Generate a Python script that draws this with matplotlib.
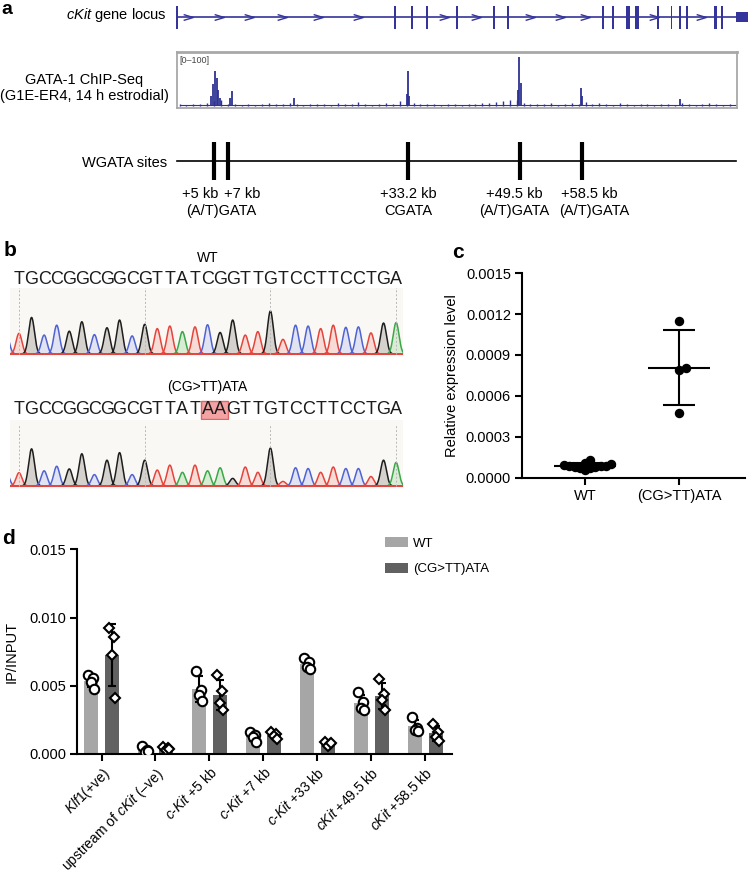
import numpy as np
import matplotlib
matplotlib.use("Agg")
import matplotlib.pyplot as plt
from matplotlib.path import Path
from matplotlib.patches import Rectangle

plt.rcParams["font.family"] = ["Liberation Sans", "DejaVu Sans"]
plt.rcParams["mathtext.fontset"] = "custom"
plt.rcParams["mathtext.it"] = "Liberation Sans:italic"
plt.rcParams["mathtext.rm"] = "Liberation Sans"

# ---------------- data ----------------
# panel a: cKit locus, positions in kb from the start of the gene
exon_kb = [-0.4, 31.3, 33.8, 35.9, 40.3, 45.7, 47.7, 61.5, 63.0, 65.2, 66.5,
           69.5, 71.5, 72.7, 73.7, 77.9, 78.9]
exon_wide = [0, 0, 0, 0, 0, 0, 0, 0, 0, 1, 1, 0, 0, 0, 0, 1, 0]
last_exon_kb = (80.9, 82.6)
arrow_kb = [1.2, 5.7, 10.1, 14.9, 20.1, 25.9, 38.4, 43.1, 50.9, 55.3, 58.9, 68.9, 75.8]

chip_bg = [3, 2, 4, 3, 5, 9, 11, 4, 3, 2,
           4, 2, 3, 5, 3, 4, 6, 4, 2, 3,
           4, 3, 2, 5, 3, 4, 7, 3, 2, 3,
           5, 4, 9, 8, 6, 3, 4, 3, 2, 4,
           3, 2, 4, 3, 5, 6, 8, 9, 11, 10,
           5, 4, 3, 3, 5, 2, 3, 6, 4, 8,
           3, 5, 4, 2, 6, 3, 2, 4, 3, 2,
           3, 4, 2, 5, 3, 2, 4, 6, 3, 2,
           4, 5, 3]
peak_kb = [4.6, 4.9, 5.2, 5.4, 5.6, 5.9, 7.3, 7.6, 16.6, 33.0, 33.2, 33.4,
           49.2, 49.4, 49.6, 58.3, 58.5, 72.8]
peak_val = [18, 40, 65, 52, 30, 14, 14, 27, 15, 22, 65, 18, 30, 91, 42, 33, 18, 13]

site_kb = [5, 7, 33.2, 49.5, 58.5]
site_labels = ["+5 kb", "+7 kb", "+33.2 kb", "+49.5 kb", "+58.5 kb"]
site_label_kb = [3.0, 9.1, 33.2, 48.6, 59.6]
motif_labels = ["(A/T)GATA", "CGATA", "(A/T)GATA", "(A/T)GATA"]
motif_label_kb = [6.0, 33.2, 48.6, 60.3]

# panel b: Sanger traces (first base is the partly visible upstream base)
wt_seq = "TGCCGGCGGCGTTATCGGTTGTCCTTCCTGA"
mut_seq = "TGCCGGCGGCGTTATAAGTTGTCCTTCCTGA"
wt_peaks = [0.45, 0.48, 0.85, 0.44, 0.67, 0.53, 0.75, 0.45, 0.61, 0.79, 0.42,
            0.69, 0.59, 0.65, 0.52, 0.63, 0.68, 0.50, 0.79, 0.44, 0.52, 1.0,
            0.34, 0.67, 0.65, 0.59, 0.67, 0.62, 0.63, 0.49, 0.72, 0.73]
mut_peaks = [0.35, 0.35, 0.98, 0.40, 0.52, 0.45, 0.85, 0.30, 0.68, 0.88, 0.30,
             0.68, 0.42, 0.55, 0.36, 0.55, 0.40, 0.48, 0.20, 0.50, 0.36, 1.0,
             0.12, 0.48, 0.46, 0.36, 0.50, 0.46, 0.46, 0.25, 0.68, 0.62]
upstream_base = "C"
mutated_bases = [15, 16]

# panel c: relative expression
groups_c = ["WT", "(CG>TT)ATA"]
wt_expr = [0.000082, 0.000075, 0.000105, 0.000068, 0.000128, 0.000090,
           0.000058, 0.000096, 0.000079, 0.000088, 0.000070, 0.000085]
mut_expr = [0.00115, 0.000807, 0.000788, 0.000476]

# panel d: ChIP-qPCR IP/INPUT
regions_d = [r"$\it{Klf1}$(+ve)", r"upstream of $\it{cKit}$ (–ve)",
             r"$\it{c}$-$\it{Kit}$ +5 kb", r"$\it{c}$-$\it{Kit}$ +7 kb",
             r"$\it{c}$-$\it{Kit}$ +33 kb", r"$\it{cKit}$ +49.5 kb",
             r"$\it{cKit}$ +58.5 kb"]
wt_ip = [[0.00578, 0.00559, 0.00530, 0.00474],
         [0.00055, 0.00025, 0.00012, 0.00020],
         [0.00610, 0.00467, 0.00430, 0.00388],
         [0.00161, 0.00142, 0.00125, 0.00088],
         [0.00705, 0.00676, 0.00639, 0.00620],
         [0.00454, 0.00381, 0.00337, 0.00320],
         [0.00270, 0.00190, 0.00175, 0.00170]]
mut_ip = [[0.00921, 0.00855, 0.00725, 0.00410],
          [0.00050, 0.00040, 0.00030, 0.00035],
          [0.00576, 0.00462, 0.00376, 0.00325],
          [0.00160, 0.00149, 0.00130, 0.00112],
          [0.00088, 0.00076, 0.00056, 0.00080],
          [0.00547, 0.00437, 0.00393, 0.00325],
          [0.00222, 0.00161, 0.00125, 0.00095]]

# ---------------- figure ----------------
W, H = 749, 874
fig = plt.figure(figsize=(W / 100, H / 100), dpi=100)


def px_axes(x0, y0, x1, y1):
    return fig.add_axes([x0 / W, 1 - y1 / H, (x1 - x0) / W, (y1 - y0) / H])


def px_text(x, y, s, **kw):
    fig.text(x / W, 1 - y / H, s, **kw)


gene_blue = "#34349a"
chip_blue = "#2e3192"
kb0_px, px_per_kb = 179.6, 6.88
fs_a = 10.5


def kb_lim(x0, x1):
    return ((x0 - kb0_px) / px_per_kb, (x1 - kb0_px) / px_per_kb)


# panel a
px_text(1, 0.5, "a", fontsize=14, fontweight="bold", va="top")
ax_a = px_axes(170, 0, 749, 230)
ax_a.set_xlim(*kb_lim(170, 749))
ax_a.set_ylim(230, 0)
ax_a.axis("off")

ax_a.plot([exon_kb[0], last_exon_kb[0]], [17, 17], color=gene_blue, lw=1.2)
widths = [0.5 if w else 0.28 for w in exon_wide]
ax_a.bar(exon_kb, 24, width=widths, bottom=5.5, color=gene_blue, lw=0)
ax_a.bar((last_exon_kb[0] + last_exon_kb[1]) / 2, 11,
         width=last_exon_kb[1] - last_exon_kb[0], bottom=11.5, color=gene_blue, lw=0)
chevron = Path([(-1, 0.6), (1, 0), (-1, -0.6)], [Path.MOVETO, Path.LINETO, Path.LINETO])
ax_a.plot(arrow_kb, [17] * len(arrow_kb), ls="none", marker=chevron, ms=7,
          mfc="none", mec=gene_blue, mew=1)
px_text(167, 15, r"$\it{cKit}$ gene locus", fontsize=fs_a, ha="right", va="center")

# WGATA sites
ax_a.plot([exon_kb[0], last_exon_kb[0]], [161, 161], color="black", lw=1.2)
ax_a.vlines(site_kb, 142, 180, color="black", lw=3)
for s, xk in zip(site_labels, site_label_kb):
    ax_a.text(xk, 194, s, fontsize=fs_a, ha="center", va="center")
for s, xk in zip(motif_labels, motif_label_kb):
    ax_a.text(xk, 211, s, fontsize=fs_a, ha="center", va="center")
px_text(167, 163, "WGATA sites", fontsize=fs_a, ha="right", va="center")

# ChIP-seq track
ax_chip = px_axes(177, 52, 737, 108)
ax_chip.set_xlim(*kb_lim(177, 737))
ax_chip.set_ylim(-4, 100)
ax_chip.set_xticks([])
ax_chip.set_yticks([])
for sp in ax_chip.spines.values():
    sp.set_color("#a8a8a8")
    sp.set_linewidth(1.3)
ax_chip.spines["top"].set_linewidth(2)
ax_chip.plot([0, len(chip_bg) - 1], [1, 1], color=chip_blue, lw=0.8)
ax_chip.vlines(np.arange(len(chip_bg)), 0, chip_bg, color=chip_blue, lw=1.0)
ax_chip.vlines(peak_kb, 0, peak_val, color=chip_blue, lw=1.3)
ax_chip.text(0.005, 0.93, "[0–100]", transform=ax_chip.transAxes, fontsize=6.5,
             color="#444444", va="top")
px_text(84, 80, "GATA-1 ChIP-Seq", fontsize=fs_a, ha="center", va="center")
px_text(84, 96, "(G1E-ER4, 14 h estrodial)", fontsize=fs_a, ha="center", va="center")

# panel b
px_text(4, 250, "b", fontsize=15, fontweight="bold", va="center")
base_colors = {"A": "#3aa84a", "C": "#4f63d2", "G": "#1e1e1e", "T": "#e5443c"}
fill_colors = {"A": "#cfe9c9", "C": "#d9dcf3", "G": "#c9c6c0", "T": "#f5d2cc"}
b_xlim = ((10 - 19) / 12.57, (403 - 19) / 12.57)

ax_bt = px_axes(10, 240, 403, 470)
ax_bt.set_xlim(*b_xlim)
ax_bt.set_ylim(470, 240)
ax_bt.axis("off")
ax_bt.text(15, 258, "WT", fontsize=10, ha="center", va="center")
ax_bt.text(15, 387, "(CG>TT)ATA", fontsize=10, ha="center", va="center")
ax_bt.add_patch(Rectangle((mutated_bases[0] - 0.55, 400.5), len(mutated_bases) + 0.15, 18.5,
                          facecolor="#f3a3a3", edgecolor="#e06666", lw=1))
for i, ch in enumerate(wt_seq):
    ax_bt.text(i, 279, ch, fontsize=13, ha="center", va="center", color="#1c1c1c")
for i, ch in enumerate(mut_seq):
    ax_bt.text(i, 410, ch, fontsize=13, ha="center", va="center", color="#1c1c1c")


def trace(ax, seq, heights):
    bases = upstream_base + seq
    xs = np.linspace(-1.6, 31.6, 3000)
    for i, (ch, h) in enumerate(zip(bases, heights)):
        pos = i - 1
        m = np.abs(xs - pos) < 0.85
        y = h * np.exp(-(xs[m] - pos) ** 2 / (2 * 0.23 ** 2))
        ax.fill_between(xs[m], 0, y, color=fill_colors[ch], lw=0, alpha=0.75)
        ax.plot(xs[m], y, color=base_colors[ch], lw=1.1)
    ax.axhline(0, color="#e5443c", lw=1.4)
    ax.vlines([0, 10, 20, 30], 0, 1.6, color="#b8b8b8", lw=0.7, ls=(0, (2, 2)))
    ax.set_facecolor("#faf8f4")
    ax.set_xlim(*b_xlim)
    ax.set_xticks([])
    ax.set_yticks([])
    for sp in ax.spines.values():
        sp.set_visible(False)


ax_w = px_axes(10, 288, 403, 356)
ax_w.set_ylim(-0.047, 1.535)
trace(ax_w, wt_seq, wt_peaks)
ax_m = px_axes(10, 420, 403, 488)
ax_m.set_ylim(-0.053, 1.74)
trace(ax_m, mut_seq, mut_peaks)

# panel c
px_text(452, 252, "c", fontsize=15, fontweight="bold", va="center")
ax_c = px_axes(522, 273.3, 745, 477.5)
ax_c.set_ylim(0, 0.0015)
ax_c.set_xlim((522 - 585) / 94, (745 - 585) / 94)
px_x, px_y = 94, 204.2 / 0.0015


def swarm(vals, x0, step):
    order = np.argsort(vals)
    placed = []
    offs = np.zeros(len(vals))
    cands = [0.0]
    for k in range(1, 40):
        cands += [k * step / 2, -k * step / 2]
    for i in order:
        y = vals[i] * px_y
        for c in cands:
            if all((c - p) ** 2 + (y - q) ** 2 >= step ** 2 for p, q in placed):
                break
        placed.append((c, y))
        offs[i] = c
    return x0 + offs / px_x


for gi, vals in enumerate([wt_expr, mut_expr]):
    vals = np.array(vals)
    xs = swarm(vals, gi, 5.2 if gi == 0 else 6.5)
    ax_c.plot(xs, vals, "o", color="black", ms=5.8, mec="black")
    m, sd = vals.mean(), vals.std(ddof=1)
    ax_c.hlines(m, gi - 0.335, gi + 0.335, color="black", lw=1.5)
    ax_c.vlines(gi, m - sd, m + sd, color="black", lw=1.5)
    ax_c.hlines([m - sd, m + sd], gi - 0.165, gi + 0.165, color="black", lw=1.5)

ax_c.set_xticks([0, 1])
ax_c.set_xticklabels(groups_c, fontsize=10.5)
ax_c.set_yticks(np.arange(0, 0.00151, 0.0003))
ax_c.set_yticklabels([f"{v:.4f}" for v in np.arange(0, 0.00151, 0.0003)], fontsize=10.5)
ax_c.set_ylabel("Relative expression level", fontsize=10.5)
ax_c.yaxis.set_label_coords((459 - 522) / 223, 0.5)
for sp in ["top", "right"]:
    ax_c.spines[sp].set_visible(False)
for sp in ["left", "bottom"]:
    ax_c.spines[sp].set_linewidth(1.5)
ax_c.tick_params(width=1.5, length=5, pad=3)

# panel d
px_text(2, 538, "d", fontsize=15, fontweight="bold", va="center")
ax_d = px_axes(77, 549.3, 452, 753.9)
ax_d.set_ylim(0, 0.015)
ax_d.set_xlim(-0.455, 6.5)
x = np.arange(len(regions_d))
off, bw = 0.195, 0.26
pt_jitter = [-0.05, 0.04, 0.0, 0.06]
wt_arr, mut_arr = np.array(wt_ip), np.array(mut_ip)
b1 = ax_d.bar(x - off, wt_arr.mean(axis=1), width=bw, color="#a6a6a6", label="WT", zorder=1)
b2 = ax_d.bar(x + off, mut_arr.mean(axis=1), width=bw, color="#616161",
              label="(CG>TT)ATA", zorder=1)
for arr, dx, mk, ms in [(wt_arr, -off, "o", 6.8), (mut_arr, off, "D", 5)]:
    ax_d.errorbar(x + dx, arr.mean(axis=1), yerr=arr.std(axis=1, ddof=1), fmt="none",
                  ecolor="black", elinewidth=1.5, capsize=3, capthick=1.5, zorder=2)
    for j in range(arr.shape[1]):
        ax_d.plot(x + dx + pt_jitter[j], arr[:, j], ls="none", marker=mk, ms=ms,
                  mfc="white", mec="black", mew=1.5, zorder=3)

ax_d.set_xticks(x)
ax_d.set_xticklabels(regions_d, rotation=45, ha="right", rotation_mode="anchor",
                     fontsize=10)
ax_d.set_yticks([0, 0.005, 0.010, 0.015])
ax_d.set_yticklabels(["0.000", "0.005", "0.010", "0.015"], fontsize=10.5)
ax_d.set_ylabel("IP/INPUT", fontsize=10.5)
ax_d.yaxis.set_label_coords((19 - 77) / 375, 0.5)
for sp in ["top", "right"]:
    ax_d.spines[sp].set_visible(False)
for sp in ["left", "bottom"]:
    ax_d.spines[sp].set_linewidth(1.5)
ax_d.tick_params(width=1.5, length=5, pad=3)
ax_d.legend(handles=[b1, b2], loc="upper left", frameon=False, fontsize=9.5,
            handlelength=1.75, handleheight=0.8, labelspacing=1.0, borderpad=0,
            borderaxespad=0, handletextpad=0.4,
            bbox_to_anchor=(385 / W, 1 - 537 / H), bbox_transform=fig.transFigure)

fig.savefig("out.png", dpi=100)
